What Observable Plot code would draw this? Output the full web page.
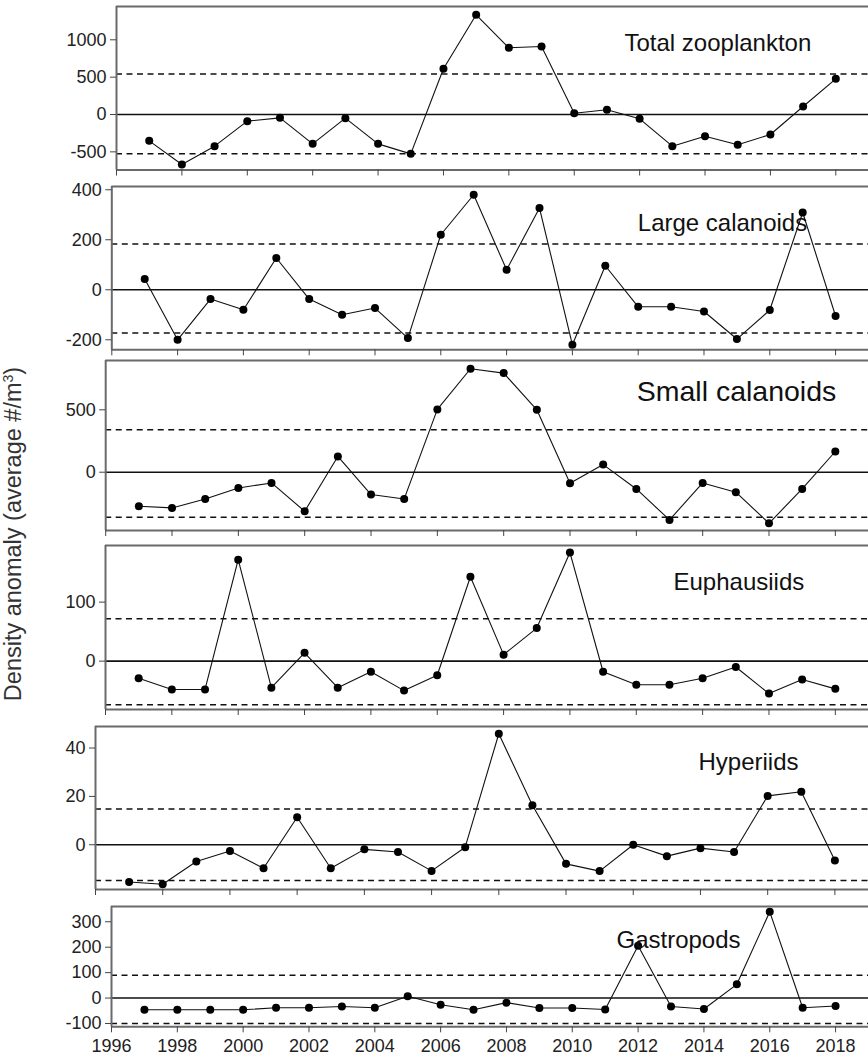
<!DOCTYPE html>
<html>
<head>
<meta charset="utf-8">
<script src="https://cdn.jsdelivr.net/npm/d3@7"></script>
<script src="https://cdn.jsdelivr.net/npm/@observablehq/plot@0.6"></script>
<style>
  html, body { margin: 0; padding: 0; background: #fff; overflow: hidden; }
  #wrap { position: relative; width: 868px; height: 1057px; font-family: "Liberation Sans", Arial, sans-serif; }
  #wrap svg { position: absolute; left: 0; background: transparent !important; }
  #ylab { position: absolute; left: 14px; top: 534px; transform: translate(-50%, -50%) rotate(-90deg);
          white-space: nowrap; font-size: 23.5px; line-height: 24px; color: #333; font-family: "Liberation Sans", Arial, sans-serif; }
  #ylab sup { font-size: 14px; vertical-align: 0; position: relative; top: -8px; }
</style>
</head>
<body>
<div id="wrap"><div id="ylab">Density anomaly (average #/m<sup>3</sup>)</div></div>
<script>
const years = [1997,1998,1999,2000,2001,2002,2003,2004,2005,2006,2007,2008,2009,2010,2011,2012,2013,2014,2015,2016,2017,2018];
const xTicks = [1996,1998,2000,2002,2004,2006,2008,2010,2012,2014,2016,2018];

const totalZooplankton = [-353,-670,-424,-89,-45,-393,-49,-393,-527,612,1335,893,911,17,63,-58,-424,-290,-406,-268,107,478];
const largeCalanoids   = [43,-200,-37,-80,127,-37,-100,-73,-193,220,380,80,327,-220,96,-68,-68,-87,-197,-81,309,-105];
const smallCalanoids   = [-273,-286,-214,-126,-86,-313,126,-179,-214,503,829,794,500,-88,61,-134,-382,-86,-160,-409,-134,166];
const euphausiids      = [-29,-48,-48,172,-45,14,-45,-18,-50,-24,143,11,56,184,-18,-40,-40,-29,-10,-55,-31,-47];
const hyperiids        = [-15.4,-16.3,-6.9,-2.6,-9.7,11.4,-9.7,-1.9,-3.0,-10.8,-1.0,45.9,16.3,-7.9,-10.9,0,-4.7,-1.4,-3.0,20.2,21.9,-6.5];
const gastropods       = [-46,-46,-46,-46,-38,-38,-33,-38,7,-26,-46,-18,-39,-39,-45,206,-33,-43,54,339,-38,-31];

const titles = ["Total zooplankton","Large calanoids","Small calanoids","Euphausiids","Hyperiids","Gastropods"];
const seriesList = [totalZooplankton, largeCalanoids, smallCalanoids, euphausiids, hyperiids, gastropods];
const yTickSets = [[-500,0,500,1000],[-200,0,200,400],[0,500],[0,100],[0,20,40],[-100,0,100,200,300]];
const upperBands = [542, 183, 340, 72, 14.8, 90];
const lowerBands = [-527, -173, -361, -74, -14.8, -100];

// layout (pixels) per panel
const layout = [
  {top: 6,     bottom: 169.5, left: 116,   dom: [-743, 1446], tdx: 508, tdy: 27, tfs: 24},
  {top: 185.7, bottom: 349,   left: 111.3, dom: [-240, 413],  tdx: 526, tdy: 27, tfs: 24},
  {top: 360,   bottom: 530,   left: 105.2, dom: [-467, 895],  tdx: 531, tdy: 20, tfs: 28.5},
  {top: 545,   bottom: 709,   left: 105,   dom: [-82, 196],   tdx: 568, tdy: 27, tfs: 24},
  {top: 726,   bottom: 889,   left: 95,    dom: [-18.5, 48.9],tdx: 603, tdy: 26, tfs: 24},
  {top: 905.7, bottom: 1026,  left: 111,   dom: [-113, 360],  tdx: 505, tdy: 24, tfs: 24}
];

const wrap = document.getElementById("wrap");
const tickFont = 18;

seriesList.forEach((vals, i) => {
  const L = layout[i];
  const last = i === seriesList.length - 1;
  const mt = 20, mb = last ? 40 : 12;
  const data = years.map((y, k) => ({year: y, value: vals[k]}));
  const chart = Plot.plot({
    width: 868,
    height: (L.bottom - L.top) + mt + mb,
    marginLeft: L.left,
    marginRight: 0,
    marginTop: mt,
    marginBottom: mb,
    style: {background: "transparent", fontFamily: "'Liberation Sans', Arial, sans-serif", color: "#222", overflow: "visible"},
    x: {domain: [1996, 2019]},
    y: {domain: L.dom},
    marks: [
      Plot.ruleY([lowerBands[i], upperBands[i]], {stroke: "#111", strokeWidth: 1.5, strokeDasharray: "6,4.5"}),
      Plot.ruleY([0], {stroke: "#111", strokeWidth: 1.6}),
      Plot.line(data, {x: "year", y: "value", stroke: "#111", strokeWidth: 1.1}),
      Plot.dot(data, {x: "year", y: "value", r: 4, fill: "#000", stroke: "none"}),
      Plot.ruleY(L.dom, {stroke: "#6a6a6a", strokeWidth: 2}),
      Plot.ruleX([1996], {stroke: "#6a6a6a", strokeWidth: 2}),
      Plot.axisY({ticks: yTickSets[i], tickSize: 6, tickPadding: 4, fontSize: tickFont, label: null, tickFormat: d => String(d), stroke: "#444"}),
      Plot.axisX({ticks: xTicks, tickSize: 6, tickPadding: 6, fontSize: tickFont, label: null,
                  tickFormat: last ? (d => String(d)) : (() => ""), stroke: "#444"}),
      Plot.text([titles[i]], {frameAnchor: "top-left", textAnchor: "start", dx: L.tdx, dy: L.tdy,
                  fontSize: L.tfs, fill: "#111"})
    ]
  });
  chart.style.top = (L.top - mt) + "px";
  wrap.appendChild(chart);
});
</script>
</body>
</html>
